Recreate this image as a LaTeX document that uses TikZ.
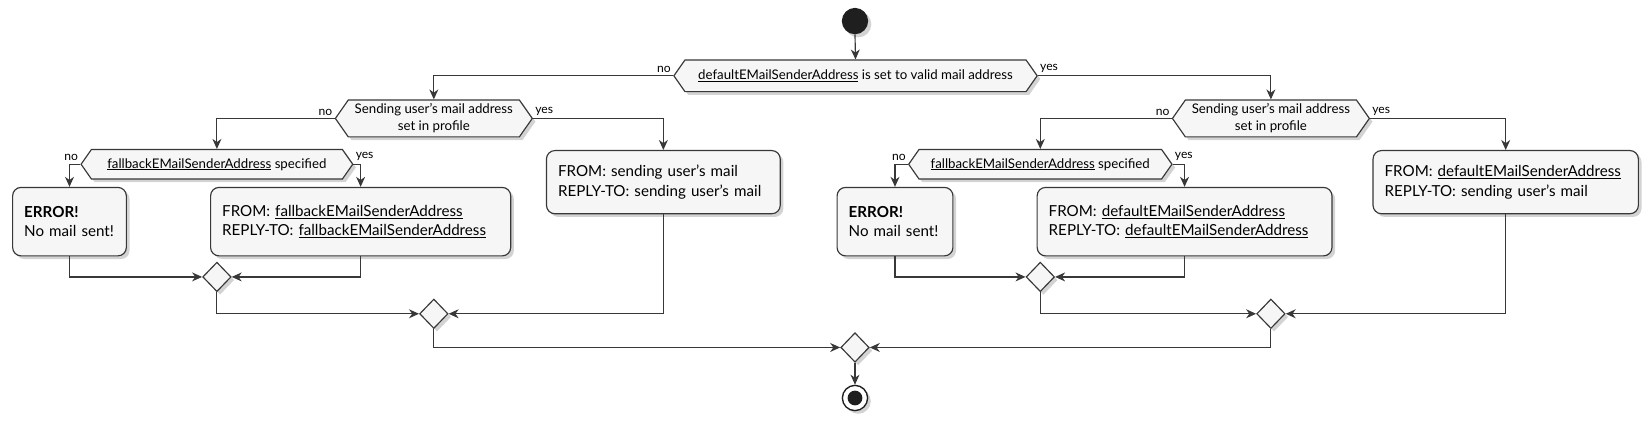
\documentclass[tikz,border=0pt]{standalone}
\usepackage{fontspec}
\setmainfont{Lato}
\usetikzlibrary{shapes.geometric,shapes.symbols,arrows.meta,shadows}
\definecolor{ln}{HTML}{383838}
\definecolor{bg}{HTML}{F6F6F6}
\begin{document}
\begin{tikzpicture}[x=1pt,y=-1pt,
  every node/.style={font=\fontsize{12.6}{16}\selectfont, text=black},
  shad/.style={drop shadow={opacity=0.35,shadow xshift=3pt,shadow yshift=-3pt}},
  hexnode/.style={shape=signal, signal to=west and east, signal pointer angle=110, draw=ln, line width=1.1pt, fill=bg, align=center, inner sep=0pt, shad},
  actbox/.style={rectangle, rounded corners=8pt, draw=ln, line width=1.1pt, fill=bg, align=left, inner xsep=11pt, inner ysep=0pt, shad, font=\fontsize{14.4}{18.5}\selectfont},
  merge/.style={diamond, draw=ln, line width=1.1pt, fill=bg, minimum width=27pt, minimum height=28pt, inner sep=0pt, shad},
  flow/.style={draw=ln, line width=1.1pt, -{Stealth[length=9.5pt,width=8.5pt,inset=3pt]}},
  lbl/.style={inner sep=0pt, font=\fontsize{11.5}{12}\selectfont},
  startn/.style={circle, fill=black!88, minimum size=25pt, inner sep=0pt, shad},
  endn/.style={circle, draw=black!88, line width=1.3pt, fill=white, minimum size=24pt, inner sep=0pt, shad,
    path picture={\fill[black!88] (path picture bounding box.center) circle (7pt);}}
]
\useasboundingbox (0,0) rectangle (1568,401);

% start and top decision
\node[startn] (start) at (812,20) {};
\node[hexnode, minimum width=345pt, minimum height=30pt] (q0) at (812.5,72) {\underline{defaultEMailSenderAddress} is set to valid mail address};

% left half
\node[hexnode, minimum width=187pt, minimum height=35pt] (q1L) at (412,112.5) {Sending user's mail address\\set in profile};
\node[hexnode, minimum width=258pt, minimum height=28pt] (q2L) at (206,156) {\underline{fallbackEMailSenderAddress} specified};
\node[actbox, text width=86pt, minimum height=65pt] (errL) at (66,210.5) {\mbox{\textbf{ERROR!}}\\\mbox{No mail sent!}};
\node[actbox, text width=263pt, minimum height=65pt] (fromFL) at (342.5,210.5) {\mbox{FROM: \underline{fallbackEMailSenderAddress}}\\\mbox{REPLY-TO: \underline{fallbackEMailSenderAddress}}};
\node[actbox, text width=200pt, minimum height=60pt] (boxSL) at (630,173) {\mbox{FROM: sending user's mail}\\\mbox{REPLY-TO: sending user's mail}};
\node[merge] (d1) at (206,263) {};
\node[merge] (d2) at (412,298) {};

% right half
\node[hexnode, minimum width=187pt, minimum height=35pt] (q1R) at (1207,112.5) {Sending user's mail address\\set in profile};
\node[hexnode, minimum width=250pt, minimum height=28pt] (q2R) at (988,156) {\underline{fallbackEMailSenderAddress} specified};
\node[actbox, text width=88pt, minimum height=65pt] (errR) at (850,210.5) {\mbox{\textbf{ERROR!}}\\\mbox{No mail sent!}};
\node[actbox, text width=258pt, minimum height=65pt] (fromDR) at (1125,210.5) {\mbox{FROM: \underline{defaultEMailSenderAddress}}\\\mbox{REPLY-TO: \underline{defaultEMailSenderAddress}}};
\node[actbox, text width=230pt, minimum height=60pt] (boxSR) at (1430,173) {\mbox{FROM: \underline{defaultEMailSenderAddress}}\\\mbox{REPLY-TO: sending user's mail}};
\node[merge] (d3) at (988,263) {};
\node[merge] (d4) at (1207,298) {};

% final merge and end
\node[merge] (d5) at (812,330) {};
\node[endn] (stop) at (812,378) {};

% labels
\node[lbl, anchor=south east] (n0) at ([xshift=-2pt,yshift=3pt]q0.west) {no};
\node[lbl, anchor=south west] (y0) at ([xshift=2pt,yshift=3pt]q0.east) {yes};
\node[lbl, anchor=south east] (n1) at ([xshift=-2pt,yshift=3pt]q1L.west) {no};
\node[lbl, anchor=south west] (y1) at ([xshift=2pt,yshift=3pt]q1L.east) {yes};
\node[lbl, anchor=south east] (n2) at ([xshift=-2pt,yshift=3pt]q2L.west) {no};
\node[lbl, anchor=south west] (y2) at ([xshift=2pt,yshift=3pt]q2L.east) {yes};
\node[lbl, anchor=south east] (n3) at ([xshift=-2pt,yshift=3pt]q1R.west) {no};
\node[lbl, anchor=south west] (y3) at ([xshift=2pt,yshift=3pt]q1R.east) {yes};
\node[lbl, anchor=south east] (n4) at ([xshift=-2pt,yshift=3pt]q2R.west) {no};
\node[lbl, anchor=south west] (y4) at ([xshift=2pt,yshift=3pt]q2R.east) {yes};

% connectors
\draw[flow] (start.south) -- (q0.north);
\draw[flow] (q0.west) -| (q1L.north);
\draw[flow] (q0.east) -| (q1R.north);
\draw[flow] (q1L.west) -| (q2L.north);
\draw[flow] (q1L.east) -| (boxSL.north);
\draw[flow] (q2L.west) -| (errL.north);
\draw[flow] (q2L.east) -| (fromFL.north);
\draw[flow] (errL.south) |- (d1.west);
\draw[flow] (fromFL.south) |- (d1.east);
\draw[flow] (d1.south) |- (d2.west);
\draw[flow] (boxSL.south) |- (d2.east);
\draw[flow] (d2.south) |- (d5.west);
\draw[flow] (q1R.west) -| (q2R.north);
\draw[flow] (q1R.east) -| (boxSR.north);
\draw[flow] (q2R.west) -| (errR.north);
\draw[flow] (q2R.east) -| (fromDR.north);
\draw[flow] (errR.south) |- (d3.west);
\draw[flow] (fromDR.south) |- (d3.east);
\draw[flow] (d3.south) |- (d4.west);
\draw[flow] (boxSR.south) |- (d4.east);
\draw[flow] (d4.south) |- (d5.east);
\draw[flow] (d5.south) -- (stop.north);
\end{tikzpicture}
\end{document}
